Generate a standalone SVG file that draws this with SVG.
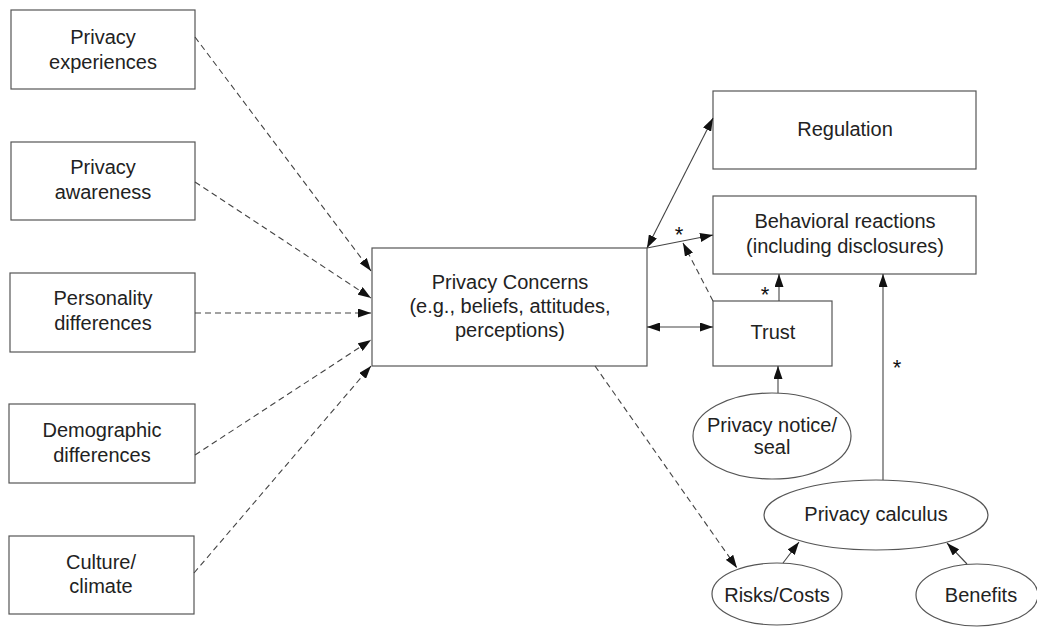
<svg xmlns="http://www.w3.org/2000/svg" width="1037" height="628" viewBox="0 0 1037 628">
<style>
.box{fill:#fff;stroke:#555;stroke-width:1.2}
.t{font-family:"Liberation Sans",Arial,sans-serif;font-size:20px;fill:#222;text-anchor:middle}
.star{font-family:"Liberation Sans",Arial,sans-serif;font-size:22px;fill:#111;text-anchor:middle}
.c{fill:none;stroke:#444;stroke-width:1.1}
.d{stroke-dasharray:6,4}
</style>
<defs>
<marker id="ah" viewBox="0 0 13 9" refX="13" refY="4.5" markerWidth="13" markerHeight="9" markerUnits="userSpaceOnUse" orient="auto-start-reverse">
<path d="M0,0 L13,4.5 L0,9 Z" fill="#111"/>
</marker>
</defs>
<rect width="1037" height="628" fill="#fff"/>
<g id="n-experiences"><rect class="box" x="11" y="10" width="184" height="79"/><text class="t" x="103" y="44">Privacy</text><text class="t" x="103" y="69">experiences</text></g>
<g id="n-awareness"><rect class="box" x="11" y="142" width="184" height="78"/><text class="t" x="103" y="174">Privacy</text><text class="t" x="103" y="199">awareness</text></g>
<g id="n-personality"><rect class="box" x="10" y="273" width="185" height="79"/><text class="t" x="103" y="305">Personality</text><text class="t" x="103" y="330">differences</text></g>
<g id="n-demographic"><rect class="box" x="9" y="404" width="186" height="79"/><text class="t" x="102" y="437">Demographic</text><text class="t" x="102" y="462">differences</text></g>
<g id="n-culture"><rect class="box" x="9" y="536" width="185" height="78"/><text class="t" x="101" y="569">Culture/</text><text class="t" x="101" y="593">climate</text></g>
<g id="n-concerns"><rect class="box" x="372" y="248" width="275" height="118"/><text class="t" x="510" y="289">Privacy Concerns</text><text class="t" x="510" y="313">(e.g., beliefs, attitudes,</text><text class="t" x="510" y="337">perceptions)</text></g>
<g id="n-regulation"><rect class="box" x="713" y="91" width="263" height="78"/><text class="t" x="845" y="136">Regulation</text></g>
<g id="n-behavioral"><rect class="box" x="713" y="196" width="263" height="78"/><text class="t" x="845" y="228">Behavioral reactions</text><text class="t" x="845" y="253">(including disclosures)</text></g>
<g id="n-trust"><rect class="box" x="713" y="301" width="119" height="65"/><text class="t" x="773" y="339">Trust</text></g>
<g id="n-notice"><ellipse class="box" cx="772" cy="436" rx="79" ry="43"/><text class="t" x="772" y="432">Privacy notice/</text><text class="t" x="772" y="454">seal</text></g>
<g id="n-calculus"><ellipse class="box" cx="876" cy="515" rx="112" ry="35"/><text class="t" x="876" y="521">Privacy calculus</text></g>
<g id="n-risks"><ellipse class="box" cx="777" cy="594" rx="65" ry="31"/><text class="t" x="777" y="602">Risks/Costs</text></g>
<g id="n-benefits"><ellipse class="box" cx="977" cy="595" rx="61" ry="31"/><text class="t" x="981" y="602">Benefits</text></g>
<g id="connectors">
<line class="c d" x1="195" y1="37" x2="371" y2="271" marker-end="url(#ah)"/>
<line class="c d" x1="195" y1="182" x2="371" y2="298" marker-end="url(#ah)"/>
<line class="c d" x1="195" y1="313" x2="371" y2="313" marker-end="url(#ah)"/>
<line class="c d" x1="195" y1="455" x2="371" y2="340" marker-end="url(#ah)"/>
<line class="c d" x1="194" y1="573" x2="371" y2="366" marker-end="url(#ah)"/>
<line class="c" x1="647" y1="248" x2="713" y2="118" marker-start="url(#ah)" marker-end="url(#ah)"/>
<line class="c" x1="647" y1="248" x2="713" y2="235" marker-end="url(#ah)"/>
<line class="c d" x1="713" y1="301" x2="683" y2="243" marker-end="url(#ah)"/>
<line class="c" x1="647" y1="327" x2="713" y2="327" marker-start="url(#ah)" marker-end="url(#ah)"/>
<line class="c" x1="779" y1="301" x2="779" y2="274" marker-end="url(#ah)"/>
<line class="c" x1="883" y1="480" x2="883" y2="274" marker-end="url(#ah)"/>
<line class="c" x1="778" y1="393" x2="778" y2="366" marker-end="url(#ah)"/>
<line class="c d" x1="595" y1="366" x2="737" y2="568" marker-end="url(#ah)"/>
<line class="c" x1="783" y1="563" x2="799" y2="542" marker-end="url(#ah)"/>
<line class="c" x1="967" y1="564" x2="947" y2="543" marker-end="url(#ah)"/>
<text class="star" x="679" y="242">*</text>
<text class="star" x="765" y="302">*</text>
<text class="star" x="897" y="375">*</text>
</g>
</svg>
